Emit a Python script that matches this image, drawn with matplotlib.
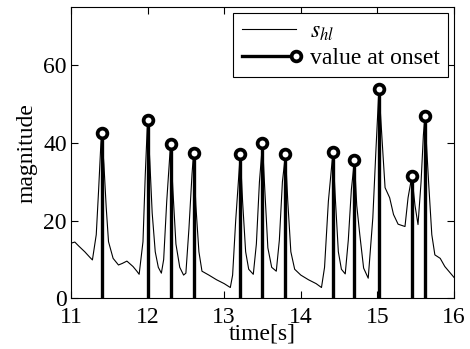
#!/usr/bin/env python3

import matplotlib
matplotlib.use('Agg')
import matplotlib.pyplot as plt
import numpy as np

# s_hl trace (time in s, magnitude)
t_signal = [11.00, 11.05, 11.10, 11.18, 11.25, 11.28, 11.33, 11.36, 11.39, 11.40,
            11.43, 11.46, 11.49, 11.55, 11.62, 11.67, 11.73, 11.81, 11.86, 11.89,
            11.94, 11.97, 12.00, 12.03, 12.06, 12.10, 12.14, 12.18, 12.21,
            12.25, 12.30, 12.33, 12.37, 12.42, 12.47, 12.50, 12.54, 12.58, 12.60,
            12.63, 12.67, 12.71, 12.80, 12.90, 13.00, 13.08, 13.11, 13.15, 13.21,
            13.24, 13.28, 13.32, 13.38, 13.42, 13.46, 13.50, 13.53, 13.57, 13.62,
            13.68, 13.72, 13.76, 13.80, 13.83, 13.87, 13.92, 14.00, 14.10, 14.20,
            14.27, 14.31, 14.36, 14.42, 14.45, 14.49, 14.53, 14.58, 14.62, 14.66,
            14.70, 14.73, 14.77, 14.82, 14.88, 14.94, 14.98, 15.02, 15.07, 15.10,
            15.16, 15.21, 15.27, 15.36, 15.40, 15.45, 15.49, 15.53,
            15.57, 15.60, 15.62, 15.67, 15.71, 15.75, 15.82, 15.88, 16.00]
s_hl = [14.2, 14.5, 13.5, 12.0, 10.5, 9.9, 16.4, 27.6, 39.7, 42.5,
        34.5, 23.4, 14.6, 10.3, 8.6, 9.0, 9.6, 8.2, 7.0, 6.2,
        14.6, 31.9, 46.0, 35.0, 22.0, 12.0, 8.0, 6.5, 10.0,
        25.0, 39.8, 28.0, 14.0, 8.0, 6.0, 6.5, 18.0, 32.0, 37.3,
        24.0, 12.0, 7.0, 6.0, 4.8, 3.8, 2.8, 6.0, 20.0, 37.2,
        25.0, 12.0, 7.5, 6.2, 14.0, 30.0, 39.9, 28.0, 13.0, 8.0,
        7.0, 15.0, 30.0, 37.1, 25.0, 12.0, 7.5, 6.0, 4.8, 3.8,
        2.8, 8.0, 25.0, 37.7, 26.0, 12.0, 7.5, 6.3, 15.0, 28.0,
        35.5, 24.0, 16.4, 7.8, 5.2, 20.7, 37.9, 54.0, 37.9, 28.5,
        25.9, 21.6, 19.1, 18.5, 25.9, 31.5, 24.0, 19.0,
        30.0, 42.0, 47.0, 29.3, 16.4, 11.2, 10.3, 8.2, 5.4]

# onset times and the value at each onset
t_onset = [11.40, 12.00, 12.30, 12.60, 13.21, 13.50, 13.80, 14.42, 14.70, 15.02, 15.45, 15.62]
v_onset = [42.5, 46.0, 39.8, 37.3, 37.2, 39.9, 37.1, 37.7, 35.5, 54.0, 31.5, 47.0]

x_ticks = [11, 12, 13, 14, 15, 16]
y_ticks = [0, 20, 40, 60]

plt.rcParams['font.family'] = ['Liberation Serif', 'DejaVu Serif']
plt.rcParams['mathtext.fontset'] = 'stix'
plt.rcParams['font.size'] = 17


def main():
    fig = plt.figure(figsize=(4.7, 3.49), dpi=100)
    ax = fig.add_axes([0.151, 0.145, 0.815, 0.835])

    ax.plot(t_signal, s_hl, color='black', linewidth=0.8, label='$s_{hl}$')

    # stems from zero up to the onset value, ringed dot on top
    ax.vlines(t_onset, 0, v_onset, colors='black', linewidth=2.4, zorder=3)
    ax.plot(t_onset, v_onset, linestyle='none', marker='o', markersize=7,
            markerfacecolor='white', markeredgecolor='black', markeredgewidth=2.7,
            zorder=4)
    ax.plot([], [], color='black', linewidth=2.4, marker='o', markersize=7,
            markerfacecolor='white', markeredgecolor='black', markeredgewidth=2.7,
            label='value at onset')

    ax.set_xlim(11, 16)
    ax.set_ylim(0, 75)
    ax.set_xticks(x_ticks)
    ax.set_yticks(y_ticks)
    ax.tick_params(direction='in', top=True, right=True, length=5, width=0.8)
    ax.tick_params(axis='x', pad=6)
    ax.tick_params(axis='y', pad=3)
    for spine in ax.spines.values():
        spine.set_linewidth(0.8)

    ax.set_xlabel('time[s]', labelpad=-3)
    ax.set_ylabel('magnitude', labelpad=4)

    leg = ax.legend(loc='upper right', fancybox=False, framealpha=1,
                    edgecolor='black', handlelength=2.3, borderaxespad=0.25,
                    labelspacing=0.2, borderpad=0.35, handletextpad=0.6)
    leg.get_frame().set_linewidth(0.8)
    # put the marker at the right end of the handle, like the original
    leg.get_lines()[1].set_markevery([2])

    fig.savefig('out.png', dpi=100)


if __name__ == '__main__':
    main()
